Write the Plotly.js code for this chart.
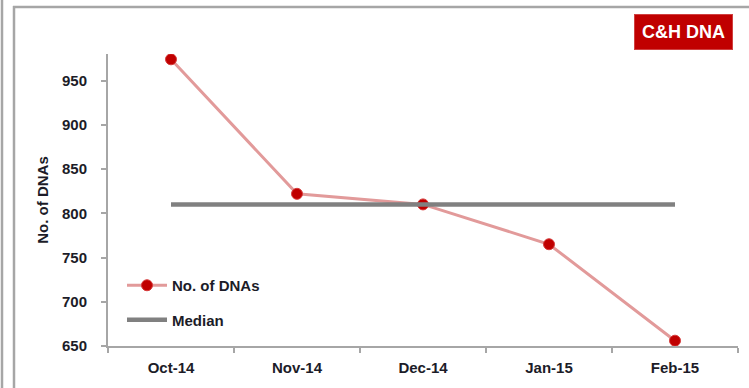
<!DOCTYPE html>
<html>
<head>
<meta charset="utf-8">
<script src="https://cdn.plot.ly/plotly-3.0.1.min.js"></script>
<style>
html,body{margin:0;padding:0;background:#fff;}
#chart{width:749px;height:388px;}
</style>
</head>
<body>
<div id="chart"></div>
<script>
const months = ["Oct-14", "Nov-14", "Dec-14", "Jan-15", "Feb-15"];
const dnaCounts = [974, 822, 810, 765, 656];
const medianMonths = ["Oct-14", "Feb-15"];
const medianValues = [810, 810];
const yTicks = [650, 700, 750, 800, 850, 900, 950];

const FONT = "Liberation Sans, Arial, sans-serif";
const TXT = "#1c1c28";

const traces = [
  {
    x: months, y: dnaCounts, type: "scatter", mode: "lines+markers",
    name: "No. of DNAs", legendgroup: "a",
    line: {color: "#e29a9a", width: 3},
    marker: {color: "#c00000", size: 11, line: {color: "#d63a3a", width: 1}}
  },
  {
    x: medianMonths, y: medianValues, type: "scatter", mode: "lines",
    name: "Median", legendgroup: "b",
    line: {color: "#808080", width: 4.5}
  }
];

// paper coords helpers based on plot area 108..738 x, 54..346 y
const px = v => (v - 108) / 630;
const py = v => (346 - v) / 292;

const layout = {
  width: 749, height: 388,
  margin: {l: 108, r: 11, t: 54, b: 42},
  paper_bgcolor: "#fff", plot_bgcolor: "#fff",
  font: {family: FONT, size: 15, color: TXT, weight: "bold"},
  showlegend: true,
  legend: {
    x: px(122), y: py(269), xanchor: "left", yanchor: "top",
    bgcolor: "rgba(0,0,0,0)", itemwidth: 40,
    font: {family: FONT, size: 15, color: TXT, weight: "bold"},
    traceorder: "grouped", tracegroupgap: 12
  },
  xaxis: {
    type: "category", range: [-0.5, 4.5],
    showline: true, linecolor: "#a6a6a6", linewidth: 2,
    ticks: "outside", tickson: "boundaries", ticklen: 5, tickcolor: "#a6a6a6", tickwidth: 2,
    ticklabelstandoff: 7,
    showgrid: false, zeroline: false,
    tickfont: {family: FONT, size: 15, color: TXT, weight: "bold"}
  },
  yaxis: {
    range: [650, 980], tickvals: yTicks,
    showline: true, linecolor: "#a6a6a6", linewidth: 2,
    ticks: "outside", ticklen: 5, tickcolor: "#a6a6a6", tickwidth: 2,
    ticklabelstandoff: 11,
    showgrid: false, zeroline: false,
    tickfont: {family: FONT, size: 15, color: TXT, weight: "bold"},
    title: {text: "No. of DNAs", standoff: 10, font: {family: FONT, size: 15, color: TXT, weight: "bold"}}
  },
  shapes: [
    {type: "line", xref: "paper", yref: "paper", x0: px(2), x1: px(2), y0: py(0), y1: py(388), line: {color: "#a6a6a6", width: 2.5}},
    {type: "line", xref: "paper", yref: "paper", x0: px(14), x1: px(14), y0: py(6), y1: py(388), line: {color: "#a6a6a6", width: 2.5}},
    {type: "line", xref: "paper", yref: "paper", x0: px(13), x1: px(749), y0: py(7), y1: py(7), line: {color: "#a6a6a6", width: 2.5}}
  ],
  annotations: [
    {
      text: "C&amp;H DNA", xref: "paper", yref: "paper", x: px(683), y: py(32),
      xanchor: "center", yanchor: "middle", showarrow: false,
      font: {family: FONT, size: 18, color: "#ffffff", weight: "bold"},
      bgcolor: "#c00000", bordercolor: "#d04040", borderwidth: 1, borderpad: 7
    }
  ]
};

Plotly.newPlot("chart", traces, layout, {displayModeBar: false, staticPlot: true});
</script>
</body>
</html>
